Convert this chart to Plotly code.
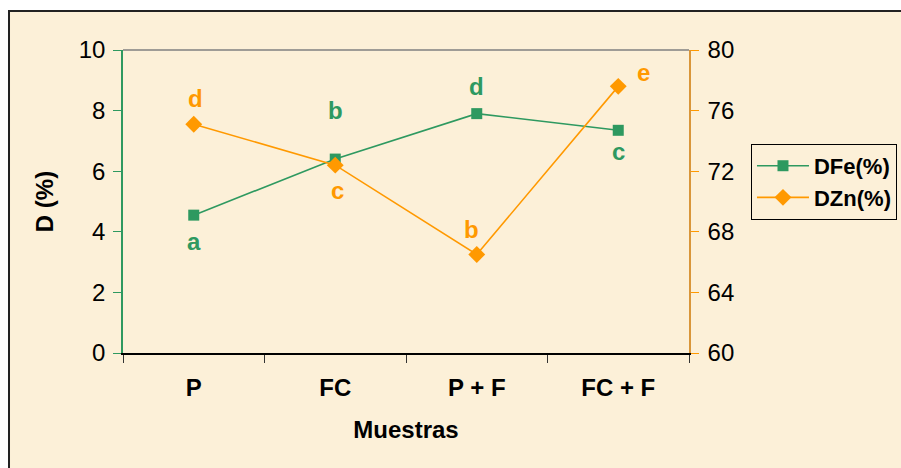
import plotly.graph_objects as go

categories = ["P", "FC", "P + F", "FC + F"]
dfe = [4.55, 6.4, 7.9, 7.35]
dzn = [75.1, 72.4, 66.5, 77.6]
dfe_letters = ["a", "b", "d", "c"]
dzn_letters = ["d", "c", "b", "e"]
dfe_shift = [(0, -26), (0, 49), (0, 27), (0, -21)]
dzn_shift = [(2, 26), (2, -25), (-5, 25), (25, 14)]

GREEN = "#2E9960"
ORANGE = "#FF9900"
BG = "#FCF0D8"
FONT = "Liberation Sans, Arial, sans-serif"
FS = 24

fig = go.Figure()
fig.add_trace(go.Scatter(x=categories, y=dfe, name="<b>DFe(%)</b>", mode="lines+markers",
                         line=dict(color=GREEN, width=1.6),
                         marker=dict(symbol="square", size=11, color=GREEN)))
fig.add_trace(go.Scatter(x=categories, y=dzn, name="<b>DZn(%)</b>", mode="lines+markers", yaxis="y2",
                         line=dict(color=ORANGE, width=1.6),
                         marker=dict(symbol="diamond", size=13, color=ORANGE)))

for c, v, t, (dx, dy) in zip(categories, dfe, dfe_letters, dfe_shift):
    fig.add_annotation(x=c, y=v, yref="y", text=f"<b>{t}</b>", showarrow=False,
                       xshift=dx, yshift=dy, font=dict(color=GREEN, size=FS, family=FONT))
for c, v, t, (dx, dy) in zip(categories, dzn, dzn_letters, dzn_shift):
    fig.add_annotation(x=c, y=v, yref="y2", text=f"<b>{t}</b>", showarrow=False,
                       xshift=dx, yshift=dy, font=dict(color=ORANGE, size=FS, family=FONT))

# chart area background and border
fig.add_shape(type="rect", xref="paper", yref="paper", x0=-0.2014, x1=1.45, y0=-0.45, y1=1.1287,
              fillcolor=BG, line=dict(color="#222222", width=2), layer="below")
# top border of plot area
fig.add_shape(type="line", xref="paper", yref="paper", x0=0, x1=1, y0=1, y1=1,
              line=dict(color="#808080", width=1.5))

fig.update_layout(
    width=901, height=468,
    margin=dict(l=123, r=212, t=50, b=115, autoexpand=False),
    paper_bgcolor="white", plot_bgcolor="rgba(0,0,0,0)",
    font=dict(family=FONT, size=FS, color="black"),
    showlegend=True,
    legend=dict(x=1.1095, y=0.69, xanchor="left", yanchor="top", itemwidth=52,
                bordercolor="black", borderwidth=1, bgcolor="rgba(0,0,0,0)",
                font=dict(size=22, family=FONT, color="black")),
    xaxis=dict(type="category", range=[-0.5, 3.5], showgrid=False, zeroline=False,
               showline=True, linecolor="black", linewidth=1.5,
               ticks="outside", tickson="boundaries", ticklen=8, tickcolor="#333333",
               tickvals=categories, ticktext=[f"<b>{c}</b>" for c in categories],
               ticklabelstandoff=12,
               title=dict(text="<b>Muestras</b>", standoff=22, font=dict(size=FS))),
    yaxis=dict(range=[0, 10], dtick=2, showgrid=False, zeroline=False,
               showline=True, linecolor=GREEN, linewidth=1.5,
               ticks="outside", ticklen=8, tickcolor=GREEN, ticklabelstandoff=3,
               title=dict(text="<b>D (%)</b>", standoff=18, font=dict(size=FS))),
    yaxis2=dict(range=[60, 80], dtick=4, overlaying="y", side="right",
                showgrid=False, zeroline=False,
                showline=True, linecolor="#D9963A", linewidth=1.5,
                ticks="outside", ticklen=8, tickcolor=ORANGE, ticklabelstandoff=4),
)

fig.write_html("out.html", config={"displayModeBar": False},
               post_script="document.body.style.margin='0';document.body.style.overflow='hidden';")
